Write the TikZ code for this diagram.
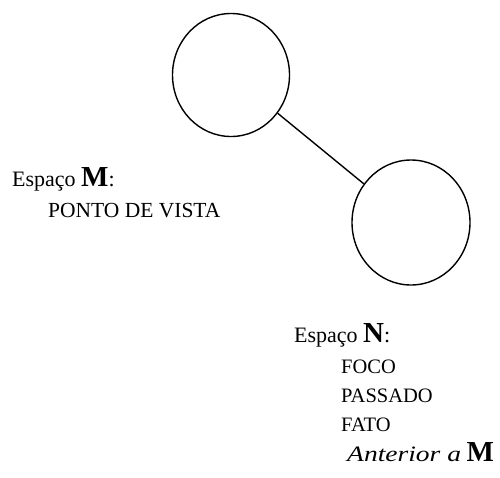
\documentclass[tikz,border=0pt]{standalone}
\usepackage{fontspec}
\setmainfont{Liberation Serif}
\usetikzlibrary{shapes.geometric}
\tikzset{
  space/.style={draw, line width=1.4pt, ellipse, inner sep=0pt},
  link/.style={line width=1.4pt},
  lbl/.style={anchor=base west, inner sep=0pt, font=\fontsize{22}{26}\selectfont},
  capline/.style={anchor=base west, inner sep=0pt, font=\fontsize{20.5}{24}\selectfont},
}
\newcommand{\bigM}[1]{{\fontsize{29}{31}\selectfont\bfseries #1}}
\begin{document}
\begin{tikzpicture}[x=1pt, y=-1pt]
\useasboundingbox (0,0) rectangle (500,477);
\node[space, minimum width=117pt, minimum height=123pt] (M) at (231,75) {};
\node[space, minimum width=118pt, minimum height=125pt] (N) at (411,222.5) {};
\draw[link] (M) -- (N);
\node[lbl] (lm) at (12,186) {Espaço \bigM{M}:};
\node[capline, font=\fontsize{21.5}{24}\selectfont] (pv) at (48,217) {PONTO DE VISTA};
\node[lbl] (ln) at (294,342) {Espaço \bigM{N}:};
\node[capline] (foco) at (341,373) {FOCO};
\node[capline] (pass) at (341,402) {PASSADO};
\node[capline] (fato) at (341,431) {FATO};
\node[lbl] (ant) at (347,461) {\scalebox{1.25}[1]{\itshape Anterior a} \bigM{M}};
\end{tikzpicture}
\end{document}
